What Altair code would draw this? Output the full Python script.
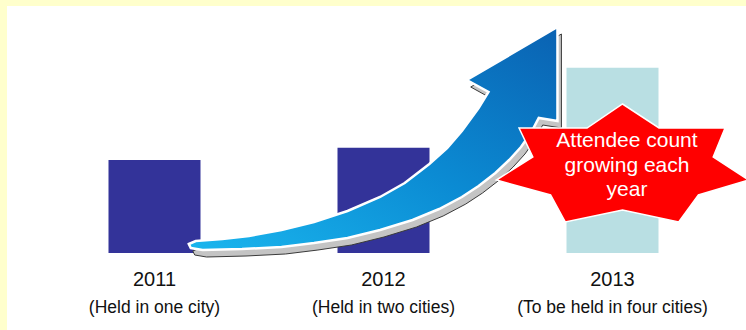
import altair as alt
import pandas as pd

# ---- data ----
years = ["2011", "2012", "2013"]
notes = ["(Held in one city)", "(Held in two cities)", "(To be held in four cities)"]
attendees = [92, 104, 183]          # relative bar heights (no value axis shown)
bar_colors = ["#333399", "#333399", "#B9DFE3"]
star_lines = ["Attendee count", "growing each", "year"]

# ---- layout ----
PLOT_W, PLOT_H = 697, 253
PAD_L, PAD_T = 35, 0
Y_MAX = 250
N = len(years)

# decorative outlines (pixel estimates), converted to data units for the shared scales
arrow_outline_px = [
    (186, 244), (193, 241), (220, 239), (247, 236), (280, 230), (313, 222), (347, 211),
    (380, 197), (405, 183), (430, 164), (448, 148), (463, 131), (480, 108), (490, 92),
    (468, 80), (560, 27), (560, 121), (541, 118),
    (533, 133), (523, 147), (511, 160), (497, 173), (480, 186), (463, 197), (440, 209),
    (413, 220), (380, 230), (347, 238), (313, 243), (280, 247), (240, 249), (200, 250),
    (188, 248),
]
star_outline_px = [
    (626, 104), (663, 128), (730, 128), (718, 157), (754, 180), (703, 195), (683, 222),
    (626, 210), (568, 222), (553, 195), (498, 180), (535, 157), (521, 128), (590, 128),
]


def to_data(pts, dx=0, dy=0):
    return pd.DataFrame({
        "x": [(px + dx - PAD_L) * N / PLOT_W for px, py in pts],
        "y": [(PAD_T + PLOT_H - (py + dy)) * Y_MAX / PLOT_H for px, py in pts],
        "i": list(range(len(pts))),
    })


bars_df = pd.DataFrame({
    "x": [i + 0.5 for i in range(N)],
    "y": attendees,
    "color": bar_colors,
    "year": years,
    "note": notes,
})

x_enc = alt.X(
    "x:Q",
    scale=alt.Scale(domain=[0, N], nice=False, zero=False),
    axis=alt.Axis(values=list(range(N + 1)), labels=False, title=None, grid=False,
                  tickSize=6, tickWidth=2, tickColor="#8C8C8C",
                  domainColor="#8C8C8C", domainWidth=2),
)
y_enc = alt.Y("y:Q", scale=alt.Scale(domain=[0, Y_MAX], nice=False), axis=None)

panel = alt.Chart(pd.DataFrame({"a": [0]})).mark_rect(color="white").encode(
    x=alt.value(7 - PAD_L), x2=alt.value(746 - PAD_L),
    y=alt.value(6 - PAD_T), y2=alt.value(330 - PAD_T),
)

bars = alt.Chart(bars_df).mark_bar(size=92).encode(
    x=x_enc, y=y_enc, color=alt.Color("color:N", scale=None)
)

shadow = alt.Chart(to_data(arrow_outline_px, 4, 7)).mark_line(
    interpolate="linear-closed", fill="#C4C4C4", stroke="#3A3A3A", strokeWidth=1
).encode(x=x_enc, y=y_enc, order=alt.Order("i:Q"))

arrow = alt.Chart(to_data(arrow_outline_px)).mark_line(
    interpolate="linear-closed",
    fill=alt.LinearGradient(
        gradient="linear",
        stops=[alt.GradientStop(color="#0A62B2", offset=0),
               alt.GradientStop(color="#0B8BD3", offset=0.5),
               alt.GradientStop(color="#1AB6EE", offset=1)],
        x1=1, y1=0, x2=0, y2=1,
    ),
    stroke="white", strokeWidth=2.5,
).encode(x=x_enc, y=y_enc, order=alt.Order("i:Q"))

star = alt.Chart(to_data(star_outline_px)).mark_line(
    interpolate="linear-closed", fill="#FF0000", stroke="white", strokeWidth=1.5
).encode(x=x_enc, y=y_enc, order=alt.Order("i:Q"))

star_text = alt.Chart(pd.DataFrame({"t": ["\n".join(star_lines)]})).mark_text(
    color="white", fontSize=21, font="Liberation Sans", lineHeight=24.5,
    align="center", baseline="middle", lineBreak="\n",
).encode(x=alt.value(627 - PAD_L), y=alt.value(141 - PAD_T), text="t:N")

year_text = alt.Chart(bars_df).mark_text(
    color="#111111", fontSize=20, font="Liberation Sans", baseline="middle"
).encode(x=x_enc, y=alt.value(280 - PAD_T), text="year:N")

note_text = alt.Chart(bars_df).mark_text(
    color="#111111", fontSize=17.5, font="Liberation Sans", baseline="middle"
).encode(x=x_enc, y=alt.value(308 - PAD_T), text="note:N")

chart = alt.layer(
    panel, bars, shadow, arrow, star, star_text, year_text, note_text
).properties(
    width=PLOT_W, height=PLOT_H,
    padding={"left": PAD_L, "top": PAD_T, "right": 746 - PAD_L - PLOT_W, "bottom": 330 - PAD_T - PLOT_H},
    autosize=alt.AutoSizeParams(type="none"),
    background="#FFFFCC",
).configure_view(stroke=None)

chart.save("out.html", embed_options={"renderer": "svg", "actions": False})
